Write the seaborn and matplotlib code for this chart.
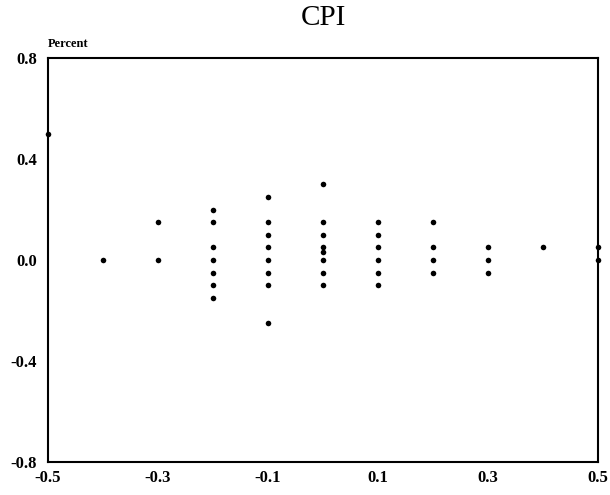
import matplotlib
matplotlib.use("Agg")
import matplotlib.pyplot as plt
import seaborn as sns
import pandas as pd

x_vals = [-0.5,
          -0.4,
          -0.3, -0.3,
          -0.2, -0.2, -0.2, -0.2, -0.2, -0.2, -0.2,
          -0.1, -0.1, -0.1, -0.1, -0.1, -0.1, -0.1, -0.1,
          0.0, 0.0, 0.0, 0.0, 0.0, 0.0, 0.0, 0.0,
          0.1, 0.1, 0.1, 0.1, 0.1, 0.1,
          0.2, 0.2, 0.2, 0.2,
          0.3, 0.3, 0.3,
          0.4,
          0.5, 0.5]
y_vals = [0.50,
          0.0,
          0.15, 0.0,
          0.20, 0.15, 0.05, 0.0, -0.05, -0.10, -0.15,
          0.25, 0.15, 0.10, 0.05, 0.0, -0.05, -0.10, -0.25,
          0.30, 0.15, 0.10, 0.05, 0.03, 0.0, -0.05, -0.10,
          0.15, 0.10, 0.05, 0.0, -0.05, -0.10,
          0.15, 0.05, 0.0, -0.05,
          0.05, 0.0, -0.05,
          0.05,
          0.05, 0.0]
x_ticks = [-0.5, -0.3, -0.1, 0.1, 0.3, 0.5]
x_labels = ["-0.5", "-0.3", "-0.1", "0.1", "0.3", "0.5"]
y_ticks = [-0.8, -0.4, 0.0, 0.4, 0.8]
y_labels = ["-0.8", "-0.4", "0.0", "0.4", "0.8"]

df = pd.DataFrame({"x": x_vals, "y": y_vals})

sns.set_style("white")
plt.rcParams["font.family"] = ["Liberation Serif", "DejaVu Serif"]
plt.rcParams["text.color"] = "black"
plt.rcParams["xtick.color"] = "black"
plt.rcParams["ytick.color"] = "black"

fig = plt.figure(figsize=(6.1, 4.95), dpi=100)
ax = fig.add_axes([48 / 610, 1 - 462 / 495, 550 / 610, 404 / 495])
sns.scatterplot(data=df, x="x", y="y", ax=ax, color="black", s=16,
                linewidth=0, clip_on=False, legend=False, zorder=5)
ax.set_xlim(-0.5, 0.5)
ax.set_ylim(-0.8, 0.8)
ax.set_xticks(x_ticks)
ax.set_xticklabels(x_labels, fontsize=12, fontweight="bold")
ax.set_yticks(y_ticks)
ax.set_yticklabels(y_labels, fontsize=12, fontweight="bold")
ax.tick_params(direction="in", length=3, width=1, color="black",
               labelcolor="black")
ax.tick_params(axis="y", pad=8)
ax.tick_params(axis="x", pad=6)
ax.set_xlabel("")
ax.set_ylabel("")
for sp in ax.spines.values():
    sp.set_visible(True)
    sp.set_color("black")
    sp.set_linewidth(1.5)
fig.text(323 / 610, 1 - 18 / 495, "CPI", ha="center", va="center",
         fontsize=21, color="black")
fig.text(48 / 610, 1 - 44 / 495, "Percent", ha="left", va="center",
         fontsize=9, fontweight="bold", color="black")
fig.savefig("out.png", dpi=100, facecolor="white")
